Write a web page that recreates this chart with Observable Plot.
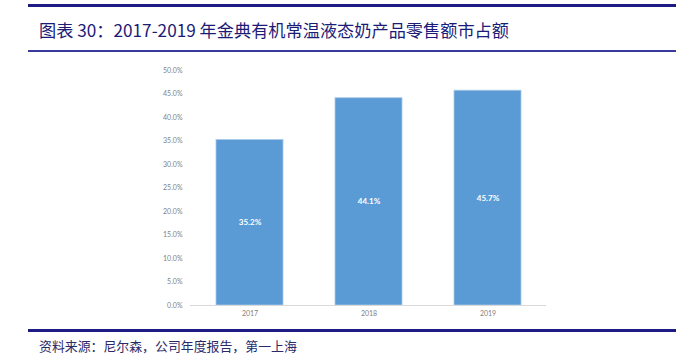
<!DOCTYPE html>
<html>
<head>
<meta charset="utf-8">
<script src="https://cdn.jsdelivr.net/npm/d3@7"></script>
<script src="https://cdn.jsdelivr.net/npm/@observablehq/plot@0.6"></script>
<style>
  html, body { margin: 0; padding: 0; background: #fff; width: 688px; height: 357px; overflow: hidden; position: relative; }
  .rule { position: absolute; left: 28px; width: 648px; background: #1c1c84; }
  #title { position: absolute; left: 39px; top: 18px; font-family: "Noto Sans CJK SC", sans-serif; font-size: 17.2px; color: #1b1b78; white-space: nowrap; line-height: 24px; }
  #source { position: absolute; left: 39px; top: 338px; font-family: "Noto Sans CJK SC", sans-serif; font-size: 12.9px; color: #2a2a6a; white-space: nowrap; line-height: 16px; }
  #chart { position: absolute; left: 0; top: 55px; }
</style>
</head>
<body>
<div class="rule" style="top:4px;height:3px;"></div>
<div id="title">图表 30：2017-2019 年金典有机常温液态奶产品零售额市占额</div>
<div class="rule" style="top:50px;height:1.5px;background:#3a3a9c;"></div>
<div id="chart"></div>
<div class="rule" style="top:329px;height:3px;"></div>
<div id="source">资料来源：尼尔森，公司年度报告，第一上海</div>
<script>
const years = ["2017", "2018", "2019"];
const shares = [35.2, 44.1, 45.7];
const yTicks = [0, 5, 10, 15, 20, 25, 30, 35, 40, 45, 50];

const data = years.map((y, i) => ({year: y, share: shares[i]}));

const chart = Plot.plot({
  width: 688,
  height: 270,
  marginTop: 15,
  marginBottom: 20,
  marginLeft: 190,
  marginRight: 142,
  style: {fontFamily: "Lato, 'Open Sans', sans-serif", fontSize: "7px", color: "#7f7f7f", background: "transparent"},
  x: {domain: years, paddingInner: 0.44, paddingOuter: 0.21, label: null, tickSize: 0, tickPadding: 6},
  y: {domain: [0, 50], ticks: yTicks, tickFormat: d => d.toFixed(1) + "%", label: null, tickSize: 0, tickPadding: 8},
  marks: [
    Plot.barY(data, {x: "year", y: "share", fill: "#5b9bd5", stroke: "#a9c9ea", strokeWidth: 0.8}),
    Plot.ruleY([0], {stroke: "#d9d9d9", strokeWidth: 1}),
    Plot.text(data, {x: "year", y: d => d.share / 2, text: d => d.share.toFixed(1) + "%", fill: "white", fontWeight: "bold", fontSize: 8})
  ]
});
document.getElementById("chart").appendChild(chart);
</script>
</body>
</html>
